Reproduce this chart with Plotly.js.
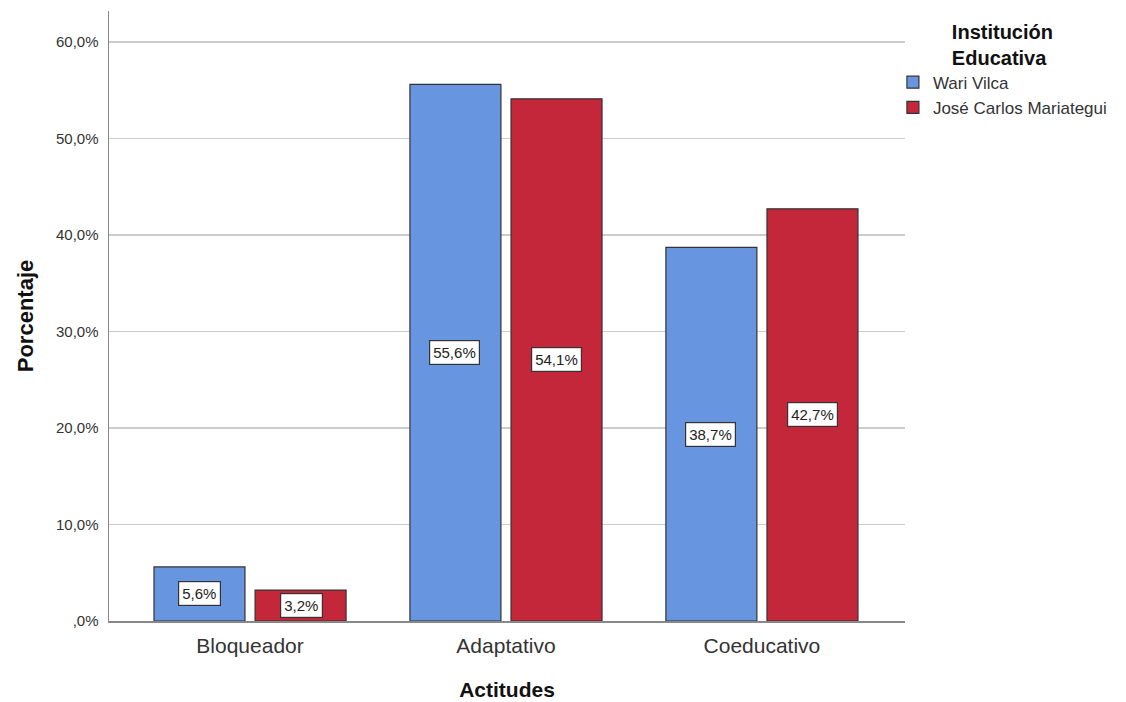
<!DOCTYPE html>
<html><head><meta charset="utf-8">
<script src="https://cdn.plot.ly/plotly-3.0.1.min.js"></script>
<style>body{margin:0;background:#fff}#chart{width:1126px;height:702px}</style>
</head><body><div id="chart"></div>
<script>
const categories = ["Bloqueador", "Adaptativo", "Coeducativo"];
const wariVilca = [5.6, 55.6, 38.7];
const joseCarlos = [3.2, 54.1, 42.7];
const seriesNames = ["Wari Vilca", "José Carlos Mariategui"];
const tickVals = [0, 10, 20, 30, 40, 50, 60];
const tickText = [",0%", "10,0%", "20,0%", "30,0%", "40,0%", "50,0%", "60,0%"];

const fmt = v => v.toFixed(1).replace(".", ",") + "%";
const FONT = "Liberation Sans, Arial, sans-serif";

const traces = [
  {type: "bar", name: seriesNames[0], x: categories, y: wariVilca,
   marker: {color: "#6795DF", line: {color: "#333333", width: 1.2}}, hoverinfo: "none"},
  {type: "bar", name: seriesNames[1], x: categories, y: joseCarlos,
   marker: {color: "#C42739", line: {color: "#333333", width: 1.2}}, hoverinfo: "none"}
];

const annotations = [];
[wariVilca, joseCarlos].forEach((arr, s) => {
  arr.forEach((v, i) => {
    annotations.push({x: categories[i], y: v / 2, xref: "x", yref: "y",
      xshift: s === 0 ? -51 : 51, text: fmt(v), showarrow: false,
      font: {family: FONT, size: 15, color: "#222"}, bgcolor: "#ffffff",
      bordercolor: "#333333", borderwidth: 1.2, borderpad: 3});
  });
});

const layout = {
  width: 1126, height: 702,
  paper_bgcolor: "#fff", plot_bgcolor: "#fff",
  margin: {l: 109, r: 221, t: 11, b: 81, autoexpand: false},
  barmode: "group", bargap: 0.21, bargroupgap: 0.1,
  font: {family: FONT, color: "#222"},
  xaxis: {range: [-0.551, 2.559], showline: true, linecolor: "#888", linewidth: 1.5,
    ticks: "", ticklabelstandoff: 5, tickfont: {size: 21, color: "#333"}, showgrid: false,
    title: {text: "<b>Actitudes</b>", font: {size: 21, color: "#111"}, standoff: 26}},
  yaxis: {range: [0, 63.2], showline: true, linecolor: "#888", linewidth: 1.5,
    tickvals: tickVals, ticktext: tickText, ticks: "", ticklen: 0, ticklabelstandoff: 6,
    tickfont: {size: 15, color: "#333"}, showgrid: true, gridcolor: "#cccccc", gridwidth: 1.5,
    zeroline: false,
    title: {text: "<b>Porcentaje</b>", font: {size: 22, color: "#111"}, standoff: 16}},
  legend: {xref: "container", yref: "container", x: 0.793, xanchor: "left", y: 0.982, yanchor: "top",
    bgcolor: "rgba(0,0,0,0)",
    title: {text: "<b>Institución<br>Educativa</b>", font: {size: 20, color: "#111"}, side: "top center"},
    font: {size: 17, color: "#333"}, itemwidth: 30, tracegroupgap: 0},
  annotations: annotations
};
Plotly.newPlot("chart", traces, layout, {displayModeBar: false, staticPlot: true});
</script></body></html>
